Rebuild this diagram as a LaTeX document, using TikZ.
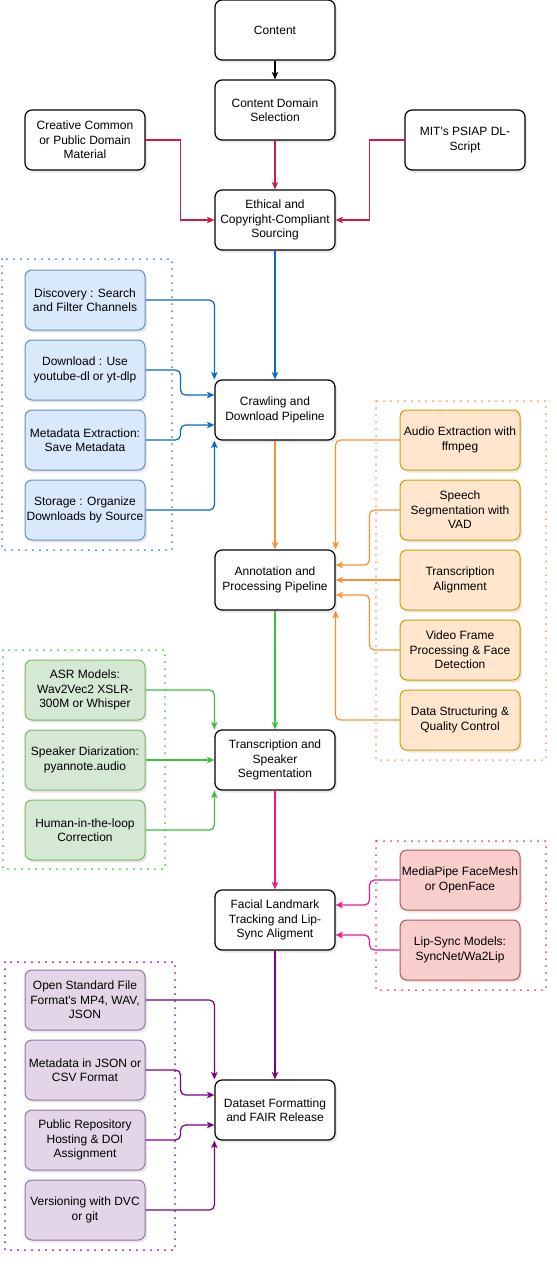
\documentclass[tikz,border=0pt]{standalone}
\usepackage{fontspec}
\setmainfont{Liberation Sans}
\usetikzlibrary{arrows.meta,shadows}

% box fills and outlines
\definecolor{bfill}{HTML}{DAE8FC}\definecolor{bline}{HTML}{6C8EBF}
\definecolor{ofill}{HTML}{FFE6CC}\definecolor{oline}{HTML}{D79B00}
\definecolor{gfill}{HTML}{D5E8D4}\definecolor{gline}{HTML}{82B366}
\definecolor{rfill}{HTML}{F8CECC}\definecolor{rline}{HTML}{B85450}
\definecolor{pfill}{HTML}{E1D5E7}\definecolor{pline}{HTML}{9673A6}
% connector colours
\definecolor{redc}{HTML}{CF1B46}
\definecolor{bluec}{HTML}{0A68CC}
\definecolor{orc}{HTML}{FF8F33}
\definecolor{grc}{HTML}{3CC23C}
\definecolor{pkc}{HTML}{EC1A8E}
\definecolor{puc}{HTML}{800080}
% dotted group frames
\definecolor{bdot}{HTML}{3388E0}
\definecolor{odot}{HTML}{FF9A50}
\definecolor{gdot}{HTML}{40CC40}
\definecolor{kdot}{HTML}{F0338F}
\definecolor{udot}{HTML}{8E1A8E}

\begin{document}
\begin{tikzpicture}[x=1pt,y=-1pt,
  box/.style={rounded corners=7pt, minimum width=120pt, minimum height=60pt,
    inner sep=1pt, align=center, font=\fontsize{12}{14.4}\selectfont,
    drop shadow={opacity=0.18, shadow xshift=2pt, shadow yshift=-2.5pt}},
  mainbox/.style={box, fill=white, draw=black, line width=1.2pt},
  bluebox/.style={box, fill=bfill, draw=bline, line width=1pt},
  orbox/.style={box, fill=ofill, draw=oline, line width=1pt},
  grbox/.style={box, fill=gfill, draw=gline, line width=1pt},
  rdbox/.style={box, fill=rfill, draw=rline, line width=1pt},
  pubox/.style={box, fill=pfill, draw=pline, line width=1pt},
  link/.style={line width=1.25pt, rounded corners=5pt,
    -{Stealth[length=7.5pt,width=6.5pt,inset=2pt]}},
  group/.style={line width=2pt, dash pattern=on 0pt off 7pt, line cap=round},
]
\useasboundingbox (0,0) rectangle (557,1264);
\fill[white] (0,0) rectangle (557,1264);

% dotted group frames
\draw[group,bdot] (2,259) rectangle (172,550);
\draw[group,odot] (376,401) rectangle (546,760);
\draw[group,gdot] (3,650) rectangle (165,869);
\draw[group,kdot] (376,841) rectangle (546,990);
\draw[group,udot] (5,962) rectangle (175,1250);

% main pipeline
\node[mainbox] (content) at (275,30) {Content};
\node[mainbox] (cds) at (275,110) {Content Domain\\Selection};
\node[mainbox] (eth) at (275,220) {Ethical and\\Copyright-Compliant\\Sourcing};
\node[mainbox] (crawl) at (275,410) {Crawling and\\Download Pipeline};
\node[mainbox] (annot) at (275,580) {Annotation and\\Processing Pipeline};
\node[mainbox] (trans) at (275,760) {Transcription and\\Speaker\\Segmentation};
\node[mainbox] (facial) at (275,920) {Facial Landmark\\Tracking and Lip-\\Sync Aligment};
\node[mainbox] (dataset) at (275,1110) {Dataset Formatting\\and FAIR Release};

% sourcing inputs
\node[mainbox] (cc) at (85,140) {Creative Common\\or Public Domain\\Material};
\node[mainbox] (mit) at (465,140) {MIT\textquotesingle s PSIAP DL-\\Script};

% crawling steps
\node[bluebox] (disc) at (85,300) {Discovery : Search\\and Filter Channels};
\node[bluebox] (dl) at (85,370) {Download : Use\\youtube-dl or yt-dlp};
\node[bluebox] (meta) at (85,440) {Metadata Extraction:\\Save Metadata};
\node[bluebox] (stor) at (85,510) {Storage : Organize\\Downloads by Source};

% annotation steps
\node[orbox] (audio) at (460,440) {Audio Extraction with\\ffmpeg};
\node[orbox] (speech) at (460,510) {Speech\\Segmentation with\\VAD};
\node[orbox] (talign) at (460,580) {Transcription\\Alignment};
\node[orbox] (video) at (460,650) {Video Frame\\Processing \& Face\\Detection};
\node[orbox] (dstruct) at (460,720) {Data Structuring \&\\Quality Control};

% transcription steps
\node[grbox] (asr) at (85,690) {ASR Models:\\Wav2Vec2 XSLR-\\300M or Whisper};
\node[grbox] (spk) at (85,760) {Speaker Diarization:\\pyannote.audio};
\node[grbox] (hum) at (85,830) {Human-in-the-loop\\Correction};

% lip-sync tools
\node[rdbox] (mp) at (460,880) {MediaPipe FaceMesh\\or OpenFace};
\node[rdbox] (lips) at (460,950) {Lip-Sync Models:\\SyncNet/Wa2Lip};

% release steps
\node[pubox] (open) at (85,1000) {Open Standard File\\Format\textquotesingle s MP4, WAV,\\JSON};
\node[pubox] (mjson) at (85,1070) {Metadata in JSON or\\CSV Format};
\node[pubox] (pub) at (85,1140) {Public Repository\\Hosting \& DOI\\Assignment};
\node[pubox] (ver) at (85,1210) {Versioning with DVC\\or git};

% connectors
\draw[link,black] (content) -- (cds);
\draw[link,redc] (cds) -- (eth);
\draw[link,redc,sharp corners] (cc.east) -- ++(35,0) |- (eth.west);
\draw[link,redc,sharp corners] (mit.west) -- ++(-35,0) |- (eth.east);

\draw[link,bluec] (eth) -- (crawl);
\draw[link,bluec] (disc.east) -| (crawl.north west);
\draw[link,bluec] (dl.east) -- ++(35,0) |- ([yshift=15pt]crawl.west);
\draw[link,bluec] (meta.east) -- ++(35,0) |- ([yshift=-15pt]crawl.west);
\draw[link,bluec] (stor.east) -| (crawl.south west);

\draw[link,orc] (crawl) -- (annot);
\draw[link,orc] (audio.west) -| (annot.north east);
\draw[link,orc] (speech.west) -- ++(-30,0) |- ([yshift=15pt]annot.east);
\draw[link,orc] (talign.west) -- (annot.east);
\draw[link,orc] (video.west) -- ++(-30,0) |- ([yshift=-15pt]annot.east);
\draw[link,orc] (dstruct.west) -| (annot.south east);

\draw[link,grc] (annot) -- (trans);
\draw[link,grc] (asr.east) -| (trans.north west);
\draw[link,grc] (spk.east) -- (trans.west);
\draw[link,grc] (hum.east) -| (trans.south west);

\draw[link,pkc] (trans) -- (facial);
\draw[link,pkc] (mp.west) -- ++(-30,0) |- ([yshift=15pt]facial.east);
\draw[link,pkc] (lips.west) -- ++(-30,0) |- ([yshift=-15pt]facial.east);

\draw[link,puc] (facial) -- (dataset);
\draw[link,puc] (open.east) -| (dataset.north west);
\draw[link,puc] (mjson.east) -- ++(35,0) |- ([yshift=15pt]dataset.west);
\draw[link,puc] (pub.east) -- ++(35,0) |- ([yshift=-15pt]dataset.west);
\draw[link,puc] (ver.east) -| (dataset.south west);
\end{tikzpicture}
\end{document}
